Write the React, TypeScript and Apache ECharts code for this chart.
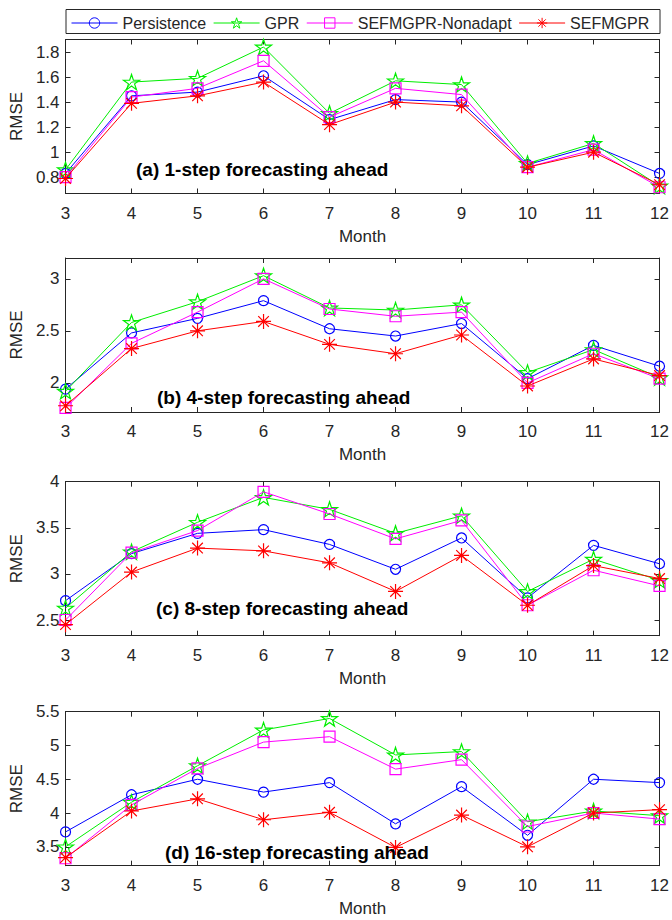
import React, { useEffect, useRef } from "react";
import * as echarts from "echarts";

const months = ["3", "4", "5", "6", "7", "8", "9", "10", "11", "12"];
const seriesNames = ["Persistence", "GPR", "SEFMGPR-Nonadapt", "SEFMGPR"];

const persistenceA = [0.83, 1.45, 1.48, 1.61, 1.26, 1.42, 1.4, 0.9, 1.05, 0.83];
const gprA = [0.86, 1.56, 1.59, 1.84, 1.31, 1.57, 1.54, 0.91, 1.07, 0.73];
const nonadaptA = [0.8, 1.44, 1.51, 1.73, 1.28, 1.51, 1.46, 0.88, 1.02, 0.72];
const sefmgprA = [0.79, 1.39, 1.45, 1.56, 1.22, 1.4, 1.37, 0.88, 1.0, 0.74];

const persistenceB = [1.94, 2.48, 2.62, 2.79, 2.52, 2.45, 2.57, 2.04, 2.36, 2.16];
const gprB = [1.92, 2.58, 2.78, 3.03, 2.72, 2.7, 2.75, 2.1, 2.32, 2.05];
const nonadaptB = [1.76, 2.38, 2.68, 3.0, 2.71, 2.64, 2.68, 2.0, 2.28, 2.04];
const sefmgprB = [1.78, 2.33, 2.5, 2.59, 2.37, 2.28, 2.46, 1.97, 2.23, 2.07];

const persistenceC = [2.71, 3.22, 3.44, 3.48, 3.32, 3.05, 3.39, 2.74, 3.31, 3.11];
const gprC = [2.63, 3.24, 3.56, 3.83, 3.7, 3.44, 3.63, 2.81, 3.16, 2.93];
const nonadaptC = [2.5, 3.23, 3.47, 3.89, 3.65, 3.38, 3.58, 2.66, 3.04, 2.87];
const sefmgprC = [2.45, 3.02, 3.28, 3.25, 3.12, 2.81, 3.2, 2.66, 3.09, 2.95];

const persistenceD = [3.72, 4.27, 4.5, 4.31, 4.45, 3.84, 4.39, 3.67, 4.5, 4.45];
const gprD = [3.5, 4.16, 4.7, 5.23, 5.4, 4.86, 4.91, 3.87, 4.03, 3.96];
const nonadaptD = [3.33, 4.12, 4.66, 5.05, 5.13, 4.65, 4.79, 3.8, 4.0, 3.91];
const sefmgprD = [3.34, 4.03, 4.21, 3.9, 4.01, 3.49, 3.97, 3.5, 4.0, 4.05];

const yTicksA = [0.8, 1, 1.2, 1.4, 1.6, 1.8];
const yTicksB = [2, 2.5, 3];
const yTicksC = [2.5, 3, 3.5, 4];
const yTicksD = [3.5, 4, 4.5, 5, 5.5];

const yRangeA = [0.67, 1.9];
const yRangeB = [1.72, 3.2];
const yRangeC = [2.33, 4.0];
const yRangeD = [3.22, 5.5];

const panelTitles = [
  "(a) 1-step forecasting ahead",
  "(b) 4-step forecasting ahead",
  "(c) 8-step forecasting ahead",
  "(d) 16-step forecasting ahead",
];

const STAR =
  "path://M0,-10 L2.24,-3.09 L9.51,-3.09 L3.63,1.18 L5.88,8.09 L0,3.82 L-5.88,8.09 L-3.63,1.18 L-9.51,-3.09 L-2.24,-3.09 Z";
const ASTERISK =
  "path://M0,-10 L0,10 M-10,0 L10,0 M-7.07,-7.07 L7.07,7.07 M-7.07,7.07 L7.07,-7.07";

const colors = ["#0000FF", "#00EE00", "#FF00FF", "#FF0000"];
const symbols = ["circle", STAR, "rect", ASTERISK];
const symbolSizes = [10, 16, 11, 15];

const FONT = "'Liberation Sans', Arial, Helvetica, sans-serif";
const INK = "#262626";

export default function App() {
  const ref = useRef<HTMLDivElement>(null);

  useEffect(() => {
    document.body.style.margin = "0";
    if (!ref.current) return;
    const chart = echarts.init(ref.current, null, { renderer: "svg" });

    const panels = [
      { data: [persistenceA, gprA, nonadaptA, sefmgprA], ticks: yTicksA, range: yRangeA },
      { data: [persistenceB, gprB, nonadaptB, sefmgprB], ticks: yTicksB, range: yRangeB },
      { data: [persistenceC, gprC, nonadaptC, sefmgprC], ticks: yTicksC, range: yRangeC },
      { data: [persistenceD, gprD, nonadaptD, sefmgprD], ticks: yTicksD, range: yRangeD },
    ];
    const gridTops = [39.5, 258, 481.7, 711.7];
    const gridHeight = 154;
    const titleY = [169, 397, 608, 852];
    const titleX = [136, 157, 156, 165];

    const grid: any[] = [];
    const xAxis: any[] = [];
    const yAxis: any[] = [];
    const series: any[] = [];
    const graphic: any[] = [
      {
        type: "rect",
        shape: { x: 66, y: 9.5, width: 594, height: 24 },
        style: { fill: "#fff", stroke: INK, lineWidth: 1 },
        z: 0,
      },
    ];

    panels.forEach((p, i) => {
      grid.push({ left: 65, right: 9, top: gridTops[i], height: gridHeight, containLabel: false });
      const lineStyle = { color: INK, width: 1 };
      xAxis.push({
        type: "category",
        gridIndex: i,
        data: months,
        boundaryGap: false,
        position: "bottom",
        name: "Month",
        nameLocation: "middle",
        nameGap: 34,
        nameTextStyle: { fontFamily: FONT, fontSize: 17, color: INK },
        axisLine: { show: true, lineStyle },
        axisTick: { show: true, inside: true, length: 5, lineStyle },
        axisLabel: { fontFamily: FONT, fontSize: 17, color: INK, margin: 11 },
        splitLine: { show: false },
      });
      xAxis.push({
        type: "category",
        gridIndex: i,
        data: months,
        boundaryGap: false,
        position: "top",
        axisLine: { show: true, lineStyle },
        axisTick: { show: true, inside: true, length: 5, lineStyle },
        axisLabel: { show: false },
        splitLine: { show: false },
      });
      yAxis.push({
        type: "value",
        gridIndex: i,
        position: "left",
        min: p.range[0],
        max: p.range[1],
        name: "RMSE",
        nameLocation: "middle",
        nameRotate: 90,
        nameGap: 38,
        nameTextStyle: { fontFamily: FONT, fontSize: 17, color: INK },
        axisLine: { show: true, lineStyle },
        axisTick: { show: true, inside: true, length: 5, lineStyle, customValues: p.ticks },
        axisLabel: { fontFamily: FONT, fontSize: 17, color: INK, margin: 6, customValues: p.ticks },
        splitLine: { show: false },
      });
      yAxis.push({
        type: "value",
        gridIndex: i,
        position: "right",
        min: p.range[0],
        max: p.range[1],
        axisLine: { show: true, lineStyle },
        axisTick: { show: true, inside: true, length: 5, lineStyle, customValues: p.ticks },
        axisLabel: { show: false, customValues: p.ticks },
        splitLine: { show: false },
      });
      p.data.forEach((vals, k) => {
        series.push({
          type: "line",
          name: seriesNames[k],
          xAxisIndex: i * 2,
          yAxisIndex: i * 2,
          data: vals,
          symbol: symbols[k],
          symbolSize: symbolSizes[k],
          symbolKeepAspect: true,
          showAllSymbol: true,
          clip: false,
          lineStyle: { color: colors[k], width: 1 },
          itemStyle: { color: "rgba(0,0,0,0)", borderColor: colors[k], borderWidth: 1.2 },
          z: 2 + k,
        });
      });
      graphic.push({
        type: "text",
        x: titleX[i],
        y: titleY[i],
        style: {
          text: panelTitles[i],
          font: `bold 19px ${FONT}`,
          fill: "#000",
          verticalAlign: "middle",
          align: "left",
        },
        z: 10,
      });
    });

    chart.setOption({
      animation: false,
      backgroundColor: "#fff",
      grid,
      xAxis,
      yAxis,
      series,
      graphic,
      legend: {
        data: seriesNames,
        left: 71,
        top: 15,
        padding: 0,
        itemWidth: 46,
        itemHeight: 13,
        itemGap: 7,
        itemStyle: { borderWidth: 1 },
        lineStyle: { width: 1 },
        textStyle: { fontFamily: FONT, fontSize: 16, color: INK },
        z: 20,
      },
    });

    return () => chart.dispose();
  }, []);

  return <div ref={ref} style={{ width: 672, height: 920 }} />;
}
